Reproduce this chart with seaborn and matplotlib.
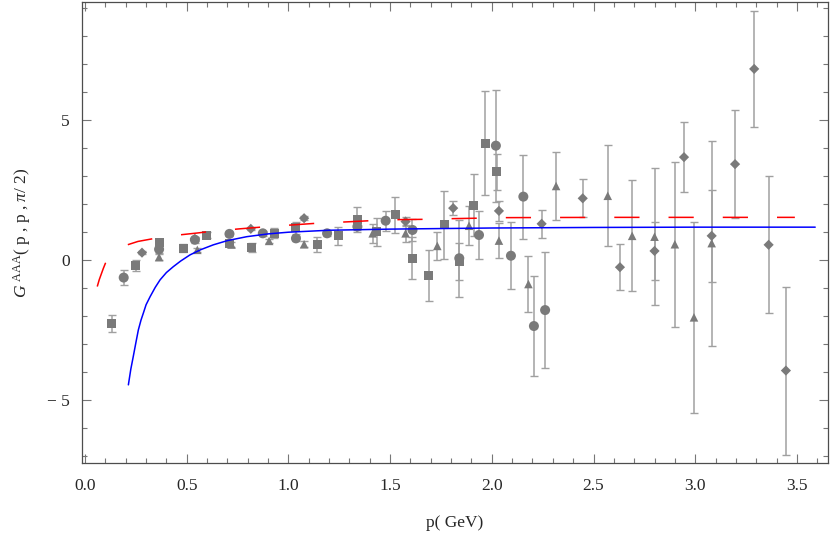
import numpy as np
import pandas as pd
import matplotlib
matplotlib.use("Agg")
import matplotlib.pyplot as plt
from matplotlib.ticker import MultipleLocator
import seaborn as sns

# lattice points, four data sets (x = p in GeV, y, error)
sq_x = [0.131, 0.25, 0.364, 0.483, 0.598, 0.71, 0.82, 0.93, 1.037, 1.142, 1.245, 1.339,
        1.434, 1.524, 1.61, 1.69, 1.766, 1.84, 1.91, 1.967, 2.024]
sq_y = [-2.26, -0.21, 0.62, 0.42, 0.88, 0.6, 0.44, 0.95, 1.15, 0.55, 0.86, 1.45,
        1.01, 1.61, 0.06, -0.56, 1.25, -0.06, 1.96, 4.17, 3.15]
sq_e = [0.31, 0.2, 0.12, 0.14, 0.1, 0.1, 0.15, 0.18, 0.22, 0.27, 0.32, 0.44,
        0.5, 0.64, 0.75, 0.92, 1.2, 0.65, 1.1, 1.86, 0.65]

ci_x = [0.19, 0.364, 0.54, 0.71, 0.874, 1.037, 1.19, 1.339, 1.478, 1.61, 1.84, 1.937,
        2.02, 2.094, 2.155, 2.207, 2.262]
ci_y = [-0.63, 0.38, 0.72, 0.93, 0.95, 0.77, 0.95, 1.19, 1.40, 1.07, 0.06, 0.89,
        4.08, 0.15, 2.26, -2.36, -1.79]
ci_e = [0.27, 0.15, 0.1, 0.08, 0.1, 0.1, 0.1, 0.12, 0.35, 0.4, 1.37, 0.85,
        2.0, 1.19, 1.5, 1.77, 2.08]

di_x = [0.28, 0.54, 0.815, 1.077, 1.576, 1.81, 2.035, 2.245, 2.447, 2.63, 2.8, 2.945,
        3.081, 3.196, 3.29, 3.361, 3.446]
di_y = [0.26, 0.75, 1.11, 1.49, 1.37, 1.85, 1.75, 1.29, 2.2, -0.26, 0.32, 3.67,
        0.86, 3.42, 6.82, 0.54, -3.95]
di_e = [0.05, 0.08, 0.05, 0.08, 0.15, 0.25, 0.35, 0.5, 0.68, 0.83, 1.05, 1.25,
        1.64, 1.93, 2.06, 2.45, 3.0]

tr_x = [0.364, 0.552, 0.72, 0.905, 1.077, 1.414, 1.576, 1.732, 1.888, 2.035, 2.18, 2.316,
        2.57, 2.69, 2.8, 2.9, 2.994, 3.081]
tr_y = [0.1, 0.36, 0.55, 0.68, 0.56, 0.95, 0.95, 0.5, 1.22, 0.69, -0.86, 2.64,
        2.29, 0.86, 0.83, 0.56, -2.05, 0.6]
tr_e = [0.1, 0.08, 0.08, 0.08, 0.1, 0.35, 0.3, 0.5, 0.7, 0.62, 0.99, 1.22,
        1.8, 1.98, 2.45, 2.95, 3.41, 3.66]

# blue solid curve
blue_x = [0.213, 0.225, 0.237, 0.25, 0.262, 0.275, 0.287, 0.30, 0.32, 0.345, 0.369, 0.40,
          0.434, 0.47, 0.516, 0.57, 0.631, 0.70, 0.795, 0.9, 1.0, 1.2, 1.5, 2.0, 2.5, 3.0, 3.59]
blue_y = [-4.46, -3.9, -3.45, -2.95, -2.5, -2.15, -1.89, -1.6, -1.31, -0.98, -0.71, -0.45,
          -0.24, -0.04, 0.18, 0.37, 0.54, 0.69, 0.83, 0.93, 0.99, 1.06, 1.1, 1.14, 1.16, 1.17, 1.17]

# red dashed curve
red_x = [0.06, 0.07, 0.08, 0.09, 0.10, 0.12, 0.15, 0.20, 0.26, 0.32, 0.40, 0.46, 0.55,
         0.62, 0.76, 0.88, 1.02, 1.14, 1.29, 1.40, 1.55, 1.67, 1.81, 1.93, 2.07, 2.3,
         2.6, 3.0, 3.49]
red_y = [-0.95, -0.7, -0.5, -0.3, -0.12, 0.08, 0.28, 0.52, 0.66, 0.74, 0.84, 0.89, 0.96,
         1.02, 1.11, 1.18, 1.25, 1.31, 1.36, 1.40, 1.44, 1.45, 1.475, 1.49, 1.51, 1.515,
         1.52, 1.52, 1.52]

sets = {"square": (sq_x, sq_y, sq_e), "circle": (ci_x, ci_y, ci_e),
        "diamond": (di_x, di_y, di_e), "triangle": (tr_x, tr_y, tr_e)}
rows = []
for name, (xs, ys, es) in sets.items():
    for x, y, e in zip(xs, ys, es):
        rows.append({"p": x, "G": y, "err": e, "set": name})
df = pd.DataFrame(rows)

sns.set_style("ticks")
plt.rcParams['font.family'] = ['Liberation Serif', 'DejaVu Serif']
plt.rcParams['mathtext.fontset'] = 'custom'
plt.rcParams['mathtext.rm'] = 'Liberation Serif'
plt.rcParams['mathtext.it'] = 'Liberation Serif:italic'

fig = plt.figure(figsize=(8.3, 5.35), dpi=100)
ax = fig.add_axes([0.0988, 0.1346, 0.8988, 0.8617])

ax.errorbar(df["p"], df["G"], yerr=df["err"], fmt="none", ecolor="#a0a0a0",
            elinewidth=1.1, capsize=3.2, capthick=1.0, zorder=2)
sns.scatterplot(data=df, x="p", y="G", style="set",
                markers={"square": "s", "circle": "o", "diamond": "D", "triangle": "^"},
                size="set", sizes={"square": 42, "circle": 52, "diamond": 27, "triangle": 38},
                color="#7a7a7a", edgecolor="none", linewidth=0, legend=False, ax=ax, zorder=3)

sns.lineplot(x=red_x, y=red_y, color="red", linewidth=1.1, sort=False,
             linestyle=(0, (16.5, 19)), ax=ax, zorder=4)
sns.lineplot(x=blue_x, y=blue_y, color="blue", linewidth=1.1, sort=False, ax=ax, zorder=4)

ax.set_xlim(-0.015, 3.653)
ax.set_ylim(-7.25, 9.21)
ax.xaxis.set_minor_locator(MultipleLocator(0.1))
ax.yaxis.set_minor_locator(MultipleLocator(1))
ax.set_xticks([0, 0.5, 1.0, 1.5, 2.0, 2.5, 3.0, 3.5])
ax.set_xticklabels(["0.0", "0.5", "1.0", "1.5", "2.0", "2.5", "3.0", "3.5"])
ax.set_yticks([-5, 0, 5])
ax.set_yticklabels(["\u2212 5", "0", "5"])
ax.tick_params(which="both", direction="in", top=True, right=True, color="#777777",
               labelsize=12.5, width=0.8)
ax.tick_params(axis="x", which="major", length=6.5, pad=11)
ax.tick_params(axis="y", which="major", length=6.5, pad=9)
ax.tick_params(which="minor", length=3.5)
for s in ax.spines.values():
    s.set_color("#4d4d4d")
    s.set_linewidth(0.9)

ax.set_xlabel("p( GeV)", fontsize=12.5, labelpad=15)
ax.set_ylabel(r"$G^{\ \mathrm{AAA}}$( p , p , $\pi$/ 2)", fontsize=12.5, labelpad=10)

fig.savefig("out.png", dpi=100)
